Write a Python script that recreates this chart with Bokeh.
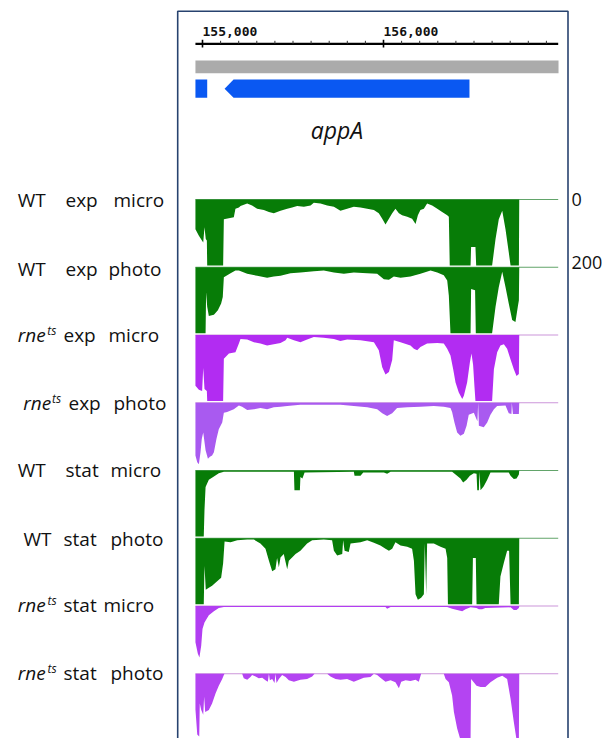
from bokeh.plotting import figure
from bokeh.models import Range1d
from bokeh.core.properties import value
from bokeh.embed import file_html
from bokeh.resources import INLINE

# ------------------------------------------------------------------ data
view_start = 154961
view_end = 156967
ruler_major = [155000, 156000]
ruler_major_labels = ["155,000", "156,000"]
ruler_minor = [155100, 155200, 155300, 155400, 155500, 155600, 155700, 155800, 155900,
               156100, 156200, 156300, 156400, 156500, 156600, 156700, 156800, 156900]
neighbor_gene_end = 155026
gene_name = "appA"
gene_start = 155122
gene_end = 156475
depth_max = 200
scale_labels = ["0", "200"]
scale_values = [0, 200]

strains = ["WT", "WT", "rne", "rne", "WT", "WT", "rne", "rne"]
strain_sup = ["", "", "ts", "ts", "", "", "ts", "ts"]
phases = ["exp", "exp", "exp", "exp", "stat", "stat", "stat", "stat"]
methods = ["micro", "photo", "micro", "photo", "micro", "photo", "micro", "photo"]

pos_wt_exp_micro = [154961, 154980, 155004, 155011, 155018, 155024, 155026, 155114, 155118, 155173,
                    155182, 155201, 155210, 155247, 155274, 155302, 155339, 155367, 155394, 155431,
                    155468, 155495, 155523, 155560, 155597, 155615, 155652, 155689, 155726, 155762,
                    155799, 155836, 155873, 155910, 155947, 155974, 155993, 156011, 156030, 156048,
                    156066, 156085, 156103, 156131, 156158, 156177, 156190, 156204, 156223, 156241,
                    156269, 156297, 156324, 156352, 156361, 156366, 156481, 156484, 156508, 156512,
                    156600, 156619, 156637, 156656, 156674, 156692, 156702, 156748, 156750]
cov_wt_exp_micro = [90, 110, 130, 84, 120, 124, 200, 200, 60, 54,
                    28, 24, 20, 12, 18, 28, 32, 38, 42, 34,
                    28, 24, 20, 22, 18, 10, 12, 18, 22, 34,
                    28, 22, 24, 28, 32, 42, 58, 76, 58, 42,
                    28, 42, 48, 52, 58, 74, 48, 32, 28, 12,
                    18, 28, 38, 48, 52, 200, 200, 144, 144, 200,
                    200, 120, 60, 34, 90, 160, 200, 200, 0]

pos_wt_exp_photo = [154961, 155017, 155020, 155026, 155035, 155063, 155085, 155103, 155112, 155118,
                    155155, 155182, 155201, 155247, 155302, 155357, 155394, 155431, 155486, 155541,
                    155615, 155670, 155726, 155781, 155836, 155910, 155965, 156002, 156030, 156057,
                    156094, 156149, 156204, 156260, 156297, 156333, 156352, 156361, 156370, 156481,
                    156484, 156506, 156510, 156600, 156619, 156637, 156656, 156674, 156692, 156711,
                    156729, 156742, 156748, 156750]
cov_wt_exp_photo = [200, 200, 76, 120, 148, 144, 130, 110, 90, 30,
                    18, 10, 10, 20, 26, 32, 28, 26, 18, 16,
                    12, 10, 16, 20, 16, 18, 20, 36, 38, 28,
                    32, 28, 20, 10, 16, 24, 40, 86, 200, 200,
                    66, 70, 200, 200, 120, 60, 14, 60, 110, 160,
                    166, 120, 100, 0]

pos_rne_exp_micro = [154961, 154980, 154998, 155004, 155011, 155024, 155026, 155114, 155118, 155146,
                     155182, 155201, 155210, 155247, 155284, 155320, 155357, 155394, 155431, 155459,
                     155468, 155505, 155541, 155578, 155615, 155670, 155726, 155762, 155799, 155873,
                     155947, 155974, 155993, 156011, 156030, 156048, 156057, 156094, 156149, 156168,
                     156186, 156204, 156241, 156297, 156333, 156352, 156370, 156385, 156398, 156416,
                     156435, 156444, 156462, 156477, 156486, 156495, 156503, 156508, 156600, 156610,
                     156628, 156646, 156665, 156683, 156702, 156720, 156735, 156748, 156750]
cov_rne_exp_micro = [154, 166, 170, 100, 164, 170, 200, 200, 72, 56,
                     52, 26, 12, 14, 22, 26, 32, 28, 24, 16,
                     8, 16, 22, 14, 6, 8, 12, 18, 14, 16,
                     22, 46, 98, 120, 112, 76, 16, 22, 32, 42,
                     46, 36, 26, 24, 26, 42, 62, 104, 144, 174,
                     194, 184, 144, 84, 56, 90, 160, 200, 200, 104,
                     52, 32, 28, 42, 74, 104, 124, 118, 0]

pos_rne_exp_photo = [154961, 154971, 154980, 154989, 154996, 155004, 155017, 155030, 155041, 155053,
                     155063, 155077, 155090, 155109, 155118, 155136, 155173, 155201, 155219, 155247,
                     155284, 155320, 155357, 155394, 155431, 155468, 155541, 155615, 155689, 155762,
                     155836, 155910, 155965, 155993, 156020, 156048, 156075, 156131, 156204, 156278,
                     156333, 156370, 156379, 156392, 156407, 156425, 156444, 156459, 156471, 156499,
                     156514, 156519, 156523, 156527, 156554, 156573, 156591, 156610, 156628, 156674,
                     156692, 156707, 156709, 156715, 156748, 156750]
cov_rne_exp_photo = [160, 180, 186, 150, 110, 90, 144, 170, 164, 160,
                     150, 110, 80, 60, 30, 28, 20, 8, 12, 22,
                     20, 16, 20, 14, 12, 10, 6, 6, 6, 6,
                     10, 14, 20, 32, 40, 32, 16, 14, 12, 10,
                     12, 16, 28, 60, 90, 100, 94, 70, 36, 30,
                     50, 56, 0, 70, 74, 60, 36, 20, 10, 8,
                     32, 34, 0, 34, 34, 0]

pos_wt_stat_micro = [154961, 155007, 155011, 155017, 155035, 155063, 155090, 155118, 155505, 155508,
                     155538, 155541, 155552, 155564, 155836, 155840, 155873, 155888, 156002, 156020,
                     156039, 156379, 156398, 156425, 156440, 156459, 156477, 156499, 156514, 156518,
                     156527, 156530, 156536, 156554, 156573, 156591, 156692, 156702, 156720, 156735,
                     156748, 156750]
cov_wt_stat_micro = [200, 200, 120, 50, 28, 18, 8, 4, 4, 60,
                     60, 20, 24, 6, 4, 16, 16, 6, 6, 10,
                     4, 4, 12, 24, 36, 28, 16, 8, 10, 60,
                     60, 4, 60, 48, 28, 6, 6, 16, 26, 24,
                     12, 0]

pos_wt_stat_photo = [154961, 155007, 155011, 155018, 155035, 155053, 155081, 155103, 155114, 155122,
                     155155, 155192, 155247, 155284, 155320, 155348, 155367, 155385, 155403, 155412,
                     155422, 155431, 155449, 155468, 155477, 155495, 155514, 155541, 155578, 155606,
                     155670, 155716, 155726, 155744, 155772, 155777, 155785, 155808, 155818, 155873,
                     155910, 155947, 155983, 156011, 156030, 156048, 156066, 156094, 156131, 156158,
                     156168, 156177, 156190, 156208, 156223, 156228, 156236, 156241, 156278, 156315,
                     156343, 156352, 156356, 156490, 156494, 156510, 156514, 156637, 156646, 156665,
                     156683, 156694, 156702, 156748, 156750]
cov_wt_stat_photo = [200, 200, 84, 156, 150, 144, 130, 120, 76, 10,
                     12, 6, 4, 4, 16, 32, 68, 100, 94, 60,
                     88, 58, 48, 94, 68, 58, 48, 38, 16, 6,
                     4, 6, 38, 52, 48, 6, 38, 42, 16, 12,
                     6, 14, 22, 32, 38, 32, 12, 22, 26, 32,
                     68, 170, 186, 180, 170, 16, 170, 16, 16, 26,
                     32, 60, 200, 200, 60, 60, 200, 200, 116, 74,
                     38, 38, 200, 200, 0]

pos_rne_stat_micro = [154961, 154974, 154983, 154993, 155000, 155011, 155035, 155063, 155090, 155118,
                      156011, 156020, 156039, 156352, 156379, 156407, 156435, 156453, 156481, 156514,
                      156527, 156545, 156563, 156702, 156720, 156735, 156748, 156750]
cov_rne_stat_micro = [110, 144, 156, 120, 70, 50, 28, 16, 6, 3,
                      3, 8, 3, 3, 8, 12, 16, 10, 4, 6,
                      10, 10, 6, 4, 12, 12, 6, 0]

pos_rne_stat_photo = [154961, 154971, 154982, 154985, 154993, 155004, 155009, 155015, 155035, 155053,
                      155072, 155090, 155109, 155118, 155122, 155219, 155228, 155247, 155265, 155274,
                      155293, 155311, 155330, 155348, 155361, 155367, 155372, 155385, 155398, 155403,
                      155409, 155422, 155440, 155459, 155477, 155505, 155541, 155578, 155606, 155619,
                      155689, 155707, 155735, 155762, 155799, 155836, 155864, 155891, 155928, 155947,
                      155965, 155983, 156011, 156039, 156066, 156085, 156098, 156122, 156149, 156177,
                      156195, 156208, 156333, 156343, 156361, 156379, 156389, 156407, 156425, 156481,
                      156484, 156514, 156536, 156563, 156591, 156628, 156656, 156683, 156702, 156720,
                      156735, 156748, 156750]
cov_rne_stat_photo = [108, 184, 190, 90, 110, 124, 70, 116, 110, 90,
                      60, 36, 16, 4, 0, 0, 14, 18, 10, 4,
                      8, 14, 12, 20, 24, 0, 20, 16, 28, 0,
                      28, 16, 4, 10, 20, 24, 18, 16, 8, 0,
                      0, 8, 16, 18, 16, 24, 18, 12, 10, 0,
                      4, 12, 24, 20, 26, 44, 24, 20, 22, 18,
                      24, 0, 0, 16, 26, 66, 116, 166, 200, 200,
                      16, 36, 40, 40, 26, 12, 6, 16, 76, 146,
                      200, 200, 0]

track_pos = [pos_wt_exp_micro, pos_wt_exp_photo, pos_rne_exp_micro, pos_rne_exp_photo,
             pos_wt_stat_micro, pos_wt_stat_photo, pos_rne_stat_micro, pos_rne_stat_photo]
track_cov = [cov_wt_exp_micro, cov_wt_exp_photo, cov_rne_exp_micro, cov_rne_exp_photo,
             cov_wt_stat_micro, cov_wt_stat_photo, cov_rne_stat_micro, cov_rne_stat_photo]

# ------------------------------------------------------------------ style / layout
W, H = 608, 738
BP_PER_PX = 1000.0 / 181.0
PX_AT_155K = 202.0


def px2bp(px):
    return 155000 + (px - PX_AT_155K) * BP_PER_PX


TEXT_SHIFT = -7.0
TRACK_TOP0 = 199.0
TRACK_STEP = 67.75
TRACK_H = 66.0
GREEN = "#077c07"
track_colors = [GREEN, GREEN, "#b22cf2", "#a95af0", GREEN, GREEN, "#b23ef2", "#b444f2"]
line_colors = ["#62a46a", "#62a46a", "#cc96da", "#cc96da", "#62a46a", "#62a46a", "#cc96da", "#cc96da"]
FRAME_COLOR = "#27426f"
GENE_BLUE = "#0a58f2"
FONT = "Open Sans"

label_baselines = [206.8, 275.0, 341.7, 409.3, 476.7, 545.0, 611.7, 679.3]
strain_x = [17.3, 17.3, 17.3, 22.7, 17.3, 23.0, 17.3, 17.3]
sup_x = [0, 0, 46.8, 51.5, 0, 0, 47.0, 47.0]
phase_x = [65.0, 65.0, 63.0, 68.0, 65.0, 63.0, 63.0, 63.0]
method_x = [113.0, 108.0, 108.0, 113.0, 110.0, 110.0, 103.0, 110.0]

p = figure(width=W, height=H, output_backend="svg", toolbar_location=None,
           x_range=Range1d(px2bp(0), px2bp(W)), y_range=Range1d(H, 0),
           x_axis_location=None, y_axis_location=None, min_border=0,
           background_fill_color="white", border_fill_color="white")
p.outline_line_color = None
p.xgrid.visible = False
p.ygrid.visible = False

k = depth_max / TRACK_H
for i in range(8):
    base = TRACK_TOP0 + i * TRACK_STEP
    p.extra_y_ranges[f"t{i}"] = Range1d(start=(H - base) * k, end=-base * k)

# frame
p.quad(left=[px2bp(177.2)], right=[px2bp(567.5)], top=[10.7], bottom=[H + 6],
       fill_color=None, line_color=FRAME_COLOR, line_width=1.6)

# ruler
p.segment(x0=[view_start], x1=[px2bp(557.7)], y0=[43.3], y1=[43.3], line_color="black", line_width=2.2)
p.segment(x0=ruler_major, x1=ruler_major, y0=[39.3] * 2, y1=[47.0] * 2, line_color="black", line_width=1.6)
p.segment(x0=ruler_minor, x1=ruler_minor, y0=[40.3] * len(ruler_minor), y1=[43.3] * len(ruler_minor),
          line_color="#333333", line_width=1)
p.text(x=ruler_major, y=[37.6 + TEXT_SHIFT] * 2, text=ruler_major_labels, text_font=value("DejaVu Sans Mono"),
       text_font_style="bold", text_font_size="13px", text_align="left", text_baseline="alphabetic",
       text_color="#111111")

# sequence bar and genes
p.quad(left=[view_start], right=[view_end], top=[60.0], bottom=[72.7], fill_color="#ababab", line_color=None)
p.quad(left=[view_start], right=[neighbor_gene_end], top=[79.0], bottom=[97.3], fill_color=GENE_BLUE,
       line_color=None)
head = 9.0 * BP_PER_PX
p.patch(x=[gene_start, gene_start + head, gene_end, gene_end, gene_start + head],
        y=[88.2, 79.0, 79.0, 97.3, 97.3], fill_color=GENE_BLUE, line_color=None)
p.text(x=[px2bp(336.5)], y=[136.8 + TEXT_SHIFT], text=[gene_name], text_font=value(FONT),
       text_font_style="italic", text_font_size="23px", text_align="center", text_baseline="alphabetic",
       text_color="#111111")

# coverage tracks
for i in range(8):
    rn = f"t{i}"
    p.segment(x0=[view_start], x1=[px2bp(557.7)], y0=[0], y1=[0], line_color=line_colors[i],
              line_width=1.2, y_range_name=rn)
    p.varea(x=track_pos[i], y1=[0] * len(track_pos[i]), y2=[min(c, depth_max) for c in track_cov[i]],
            fill_color=track_colors[i], y_range_name=rn)

# data range labels for the first track
p.text(x=[px2bp(571.0)] * 2,
       y=[scale_values[0] + (6.7 + TEXT_SHIFT) * k, scale_values[1] + (4.0 + TEXT_SHIFT) * k],
       text=scale_labels, text_font=value(FONT), text_font_size="18px", text_align="left",
       text_baseline="alphabetic", text_color="#111111", y_range_name="t0")

# row labels
normal_x, normal_y, normal_t = [], [], []
ital_x, ital_y, ital_t = [], [], []
sup_xx, sup_yy, sup_t = [], [], []
for i in range(8):
    yb = label_baselines[i] + TEXT_SHIFT
    if strain_sup[i]:
        ital_x.append(px2bp(strain_x[i])); ital_y.append(yb); ital_t.append(strains[i])
        sup_xx.append(px2bp(sup_x[i])); sup_yy.append(yb - 4.6); sup_t.append(strain_sup[i])
    else:
        normal_x.append(px2bp(strain_x[i])); normal_y.append(yb); normal_t.append(strains[i])
    normal_x.append(px2bp(phase_x[i])); normal_y.append(yb); normal_t.append(phases[i])
    normal_x.append(px2bp(method_x[i])); normal_y.append(yb); normal_t.append(methods[i])

p.text(x=normal_x, y=normal_y, text=normal_t, text_font=value(FONT), text_font_size="19px",
       text_align="left", text_baseline="alphabetic", text_color="#111111")
p.text(x=ital_x, y=ital_y, text=ital_t, text_font=value(FONT), text_font_style="italic",
       text_font_size="19px", text_align="left", text_baseline="alphabetic", text_color="#111111")
p.text(x=sup_xx, y=sup_yy, text=sup_t, text_font=value(FONT), text_font_style="italic",
       text_font_size="12px", text_align="left", text_baseline="alphabetic", text_color="#111111")

open("out.html", "w").write(file_html(p, INLINE))
